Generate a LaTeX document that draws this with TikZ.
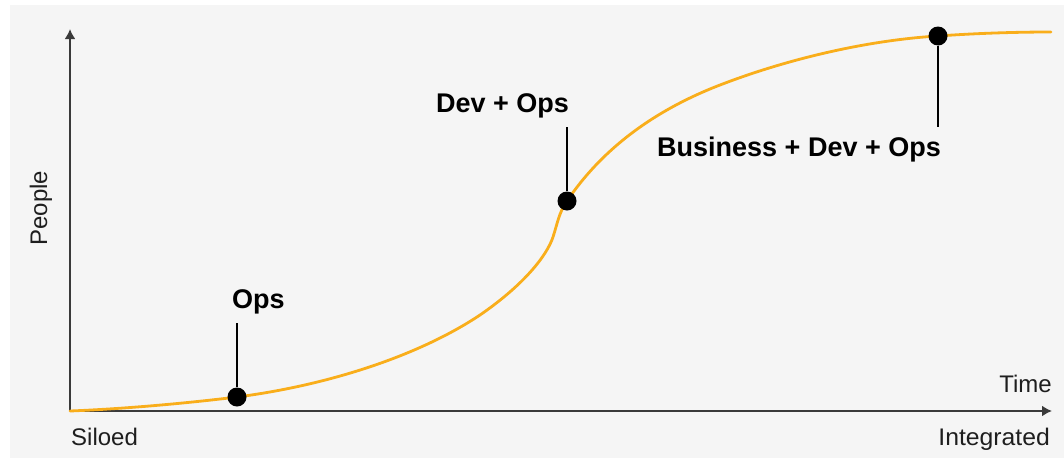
\documentclass[tikz,border=0pt]{standalone}
\usepackage{fontspec}
\setmainfont{Liberation Sans}
\usetikzlibrary{arrows.meta}
\definecolor{panel}{HTML}{F5F5F5}
\definecolor{curveor}{HTML}{F9AE1B}
\definecolor{axisc}{HTML}{3A3A3A}
\definecolor{inkc}{HTML}{1E1E1E}
\tikzset{
  axisline/.style={draw=axisc,line width=2pt,-{Latex[length=10pt,width=11pt]}},
  tether/.style={draw=black,line width=2.4pt},
  dotn/.style={circle,fill=black,inner sep=0pt,minimum size=19pt},
  boldlab/.style={font=\fontsize{27}{30}\selectfont\bfseries,text=black,inner sep=0pt},
  plainlab/.style={font=\fontsize{24}{28}\selectfont,text=inkc,inner sep=0pt},
}
\begin{document}
\begin{tikzpicture}[x=1pt,y=-1pt]
\useasboundingbox (0,0) rectangle (1064,458);
\fill[white] (0,0) rectangle (1064,458);
\fill[panel] (10,5) rectangle (1064,458);
\coordinate (origin) at (70,411);
\coordinate (ytip) at (70,29);
\coordinate (xtip) at (1052,411);
\draw[axisline] (origin) -- (ytip);
\draw[axisline] (origin) -- (xtip);
\draw[curveor,line width=2.8pt,line cap=round]
  (origin) .. controls (120,409) and (180,404) .. (237,397)
  .. controls (330,385) and (420,355) .. (480,315)
  .. controls (525,284) and (547,255) .. (553,237)
  .. controls (557,225) and (559,212) .. (567,201)
  .. controls (600,152) and (650,112) .. (720,85)
  .. controls (790,58) and (870,40) .. (938,36)
  .. controls (980,33) and (1020,32) .. (1051,32);
\node[dotn] (d1) at (237,397) {};
\node[dotn] (d2) at (567,201) {};
\node[dotn] (d3) at (938,36) {};
\coordinate (t1) at (237,323);
\coordinate (t2) at (567,127);
\coordinate (t3) at (938,127);
\draw[tether] (d1) -- (t1);
\draw[tether] (d2) -- (t2);
\draw[tether] (d3) -- (t3);
\node[boldlab,anchor=base west] (l1) at (232,308) {Ops};
\node[boldlab,anchor=base west] (l2) at (436,112) {Dev + Ops};
\node[boldlab,anchor=base west] (l3) at (657,156) {Business + Dev + Ops};
\node[plainlab,anchor=base,rotate=90] (py) at (47,208) {People};
\node[plainlab,anchor=base west] (s) at (71,445) {Siloed};
\node[plainlab,anchor=base east,xscale=1.03] (i) at (1050,445) {Integrated};
\node[plainlab,anchor=base east] (tm) at (1052,392) {Time};
\end{tikzpicture}
\end{document}
